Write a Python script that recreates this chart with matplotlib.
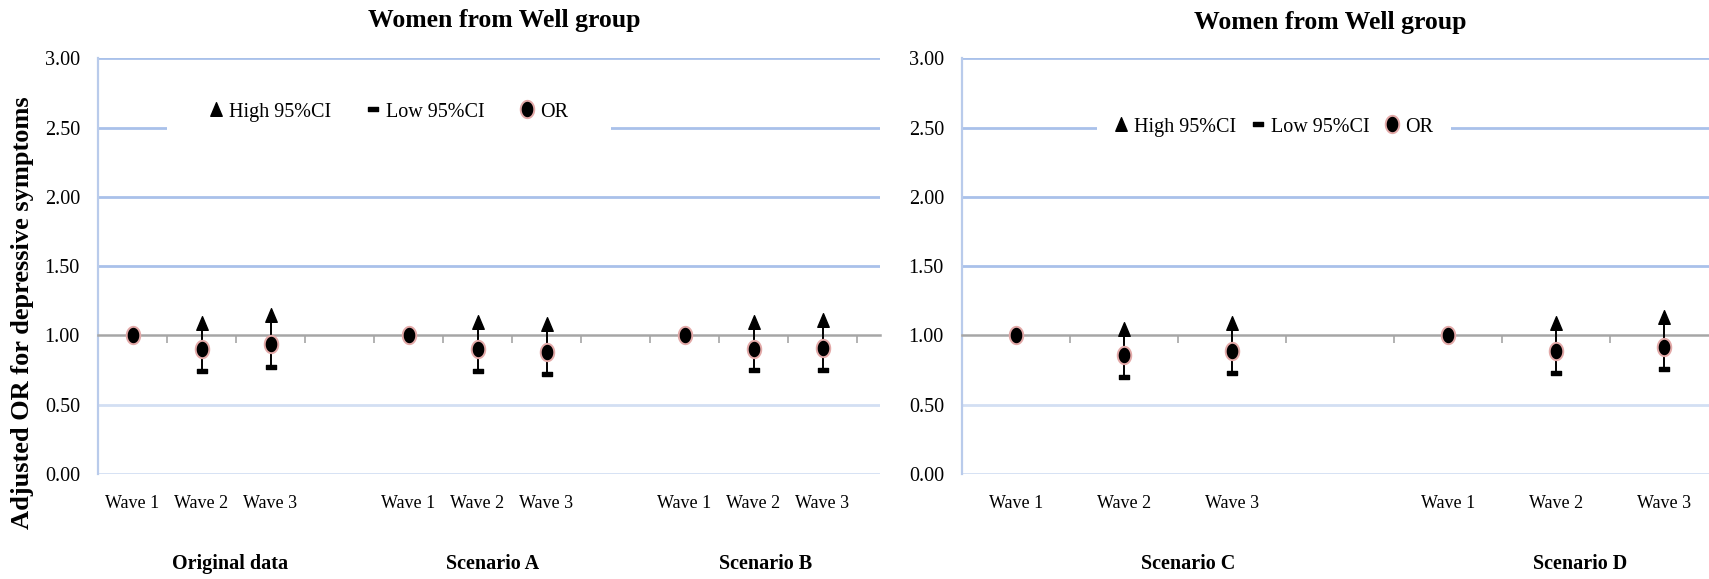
import numpy as np
import matplotlib
matplotlib.use("Agg")
import matplotlib.pyplot as plt
from matplotlib.path import Path
from matplotlib.lines import Line2D

plt.rcParams['font.family'] = ['Liberation Serif', 'DejaVu Serif']

# ---------------- data ----------------
waves = ['Wave 1', 'Wave 2', 'Wave 3']
title = 'Women from Well group'
ylabel = 'Adjusted OR for depressive symptoms'
yticks = [0.0, 0.5, 1.0, 1.5, 2.0, 2.5, 3.0]

groups_left = ['Original data', 'Scenario A', 'Scenario B']
or_left = [1.00, 0.90, 0.94, 1.00, 0.90, 0.88, 1.00, 0.90, 0.91]
high_left = [np.nan, 1.09, 1.15, np.nan, 1.10, 1.08, np.nan, 1.10, 1.11]
low_left = [np.nan, 0.74, 0.77, np.nan, 0.74, 0.72, np.nan, 0.75, 0.75]

groups_right = ['Scenario C', 'Scenario D']
or_right = [1.00, 0.86, 0.89, 1.00, 0.89, 0.92]
high_right = [np.nan, 1.05, 1.09, np.nan, 1.09, 1.13]
low_right = [np.nan, 0.70, 0.73, np.nan, 0.73, 0.76]

# ---------------- style ----------------
W, H = 1709, 579
fig = plt.figure(figsize=(W / 100, H / 100), dpi=100)

grid_dark = '#a9c1ea'
grid_light = '#d3dff3'
axis_gray = '#a6a6a6'

# custom markers (elliptical circle, triangle, flat bar)
t = np.linspace(0, 2 * np.pi, 60)
ellipse = Path(np.column_stack([0.78 * np.cos(t), np.sin(t)]), closed=True)
tri = Path([(-0.42, -0.5), (0.42, -0.5), (0.0, 0.5), (-0.42, -0.5)], closed=True)
bar = Path([(-0.5, -0.22), (0.5, -0.22), (0.5, 0.22), (-0.5, 0.22), (-0.5, -0.22)], closed=True)

or_kw = dict(marker=ellipse, markersize=12.5, markerfacecolor='black',
             markeredgecolor='#e3a9a8', markeredgewidth=1.4, linestyle='none')
hi_kw = dict(marker=tri, markersize=9.8, color='black', linestyle='none')
lo_kw = dict(marker=bar, markersize=7.8, color='black', linestyle='none')


def panel(rect, groups, or_v, hi_v, lo_v, group_x_px, legend_center, legend_pad,
          legend_colsp, x0px, slot_px):
    ax = fig.add_axes(rect)
    n_w = len(waves)
    n_slots = len(groups) * (n_w + 1) - 1
    x = np.array([g * (n_w + 1) + w for g in range(len(groups)) for w in range(n_w)])
    xmax = -0.5 + rect[2] * W / slot_px
    ax.set_xlim(-0.5, xmax)
    ax.set_ylim(0, 3)

    # gridlines
    for yv in yticks:
        if yv == 1.0:
            continue
        ax.axhline(yv, color=grid_light if yv < 1.0 else grid_dark, lw=2, zorder=1)

    # spines
    for s in ['top', 'right']:
        ax.spines[s].set_visible(False)
    ax.spines['left'].set_color('#b9cbeb')
    ax.spines['left'].set_linewidth(1.6)
    ax.spines['bottom'].set_position(('data', 1.0))
    ax.spines['bottom'].set_color(axis_gray)
    ax.spines['bottom'].set_linewidth(1.8)

    ax.set_yticks(yticks)
    ax.set_yticklabels([f'{v:.2f}' for v in yticks], fontsize=14.5)
    ax.tick_params(axis='y', length=0, pad=13)

    all_x = np.arange(n_slots)
    labels = []
    for i in all_x:
        labels.append(waves[i % (n_w + 1)] if i % (n_w + 1) < n_w else '')
    ax.set_xticks(all_x)
    ax.set_xticklabels(labels, fontsize=13)
    ax.tick_params(axis='x', which='major', length=0, pad=115)
    bounds = np.arange(n_slots + 1) - 0.5
    ax.set_xticks(bounds[bounds <= xmax], minor=True)
    ax.tick_params(axis='x', which='minor', length=6, width=1.2, color=axis_gray, direction='out')

    # high-low lines and markers
    hi = np.array(hi_v, dtype=float)
    lo = np.array(lo_v, dtype=float)
    m = ~np.isnan(hi)
    ax.vlines(x[m], lo[m], hi[m], color='black', lw=1.4, zorder=3)
    ax.plot(x, hi, zorder=4, **hi_kw)
    ax.plot(x, lo, zorder=4, **lo_kw)
    ax.plot(x, or_v, zorder=5, **or_kw)

    # group labels
    for g, px in zip(groups, group_x_px):
        xd = (px - x0px) / slot_px - 0.5
        ax.text(xd, -0.217, g, transform=ax.get_xaxis_transform(), ha='center', va='center',
                fontsize=14.5, fontweight='bold', clip_on=False)

    handles = [Line2D([], [], **hi_kw), Line2D([], [], **lo_kw), Line2D([], [], **or_kw)]
    fig.legend(handles, ['High 95%CI', 'Low 95%CI', 'OR'], ncol=3, loc='center',
               bbox_to_anchor=(legend_center[0] / W, 1 - legend_center[1] / H),
               frameon=True, fancybox=False, edgecolor='none', facecolor='white',
               framealpha=1, fontsize=14.5, handlelength=0.6, handletextpad=0.35,
               columnspacing=legend_colsp, borderpad=legend_pad, borderaxespad=0)
    return ax


# left panel
lx0, lslot = 98, 69
left_rect = [lx0 / W, 1 - 474 / H, (880 - lx0) / W, (474 - 58.3) / H]
panel(left_rect, groups_left, or_left, high_left, low_left,
      [230, 493, 766], (389, 112), 2.1, 1.8, lx0, lslot)

# right panel
rx0, rslot = 962, 108
right_rect = [rx0 / W, 1 - 474 / H, 7 * rslot / W, (474 - 58.3) / H]
panel(right_rect, groups_right, or_right, high_right, low_right,
      [1188, 1580], (1274, 127), 0.9, 0.8, rx0, rslot)

# titles and y label
fig.text(504 / W, 1 - 21 / H, title, ha='center', va='center', fontsize=18.5, fontweight='bold')
fig.text(1330 / W, 1 - 23 / H, title, ha='center', va='center', fontsize=18.5, fontweight='bold')
fig.text(23 / W, 1 - 313 / H, ylabel, rotation=90, ha='center', va='center',
         fontsize=19, fontweight='bold')

fig.savefig('out.png', dpi=100, facecolor='white')
